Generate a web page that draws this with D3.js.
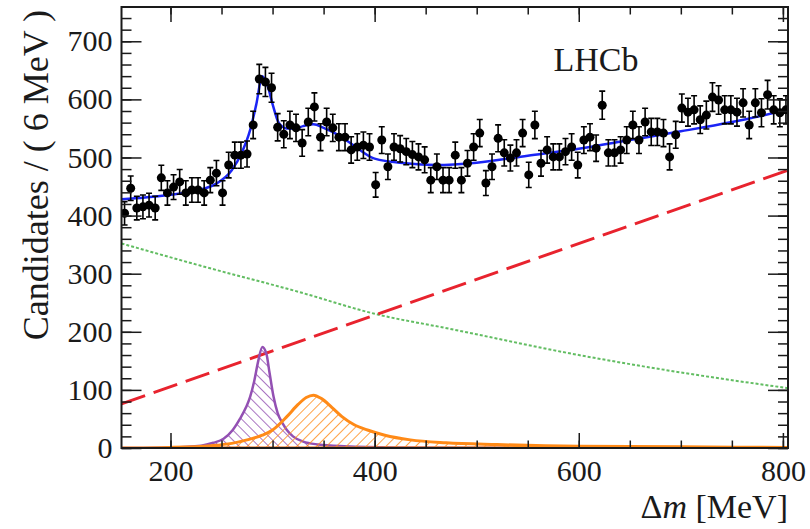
<!DOCTYPE html>
<html>
<head>
<meta charset="utf-8">
<script src="https://cdn.jsdelivr.net/npm/d3@7"></script>
<style>
body { margin: 0; background: #fff; }
text { font-family: "Liberation Serif", "Times New Roman", serif; fill: #1a1a1a; }
</style>
</head>
<body>
<script>
// Delta m data, 6 MeV bins starting at 152 MeV
var binWidth = 6;
var counts = [404,447,413,415,418,413,465,439,449,458,
    439,444,444,439,461,473,439,487,504,504,
    506,556,635,630,620,552,540,556,551,525,
    561,587,535,561,551,535,535,513,518,521,
    518,453,530,484,518,515,510,505,501,496,
    461,484,461,461,504,461,490,518,542,456,
    484,533,508,499,508,542,470,556,490,513,
    501,501,510,518,487,530,535,516,590,508,
    508,513,530,556,530,561,544,544,542,501,
    539,585,578,582,565,573,604,599,582,582,
    578,594,556,594,577,608,582,577,582];

// fit curves
var totalX = [152,175,200,225,245,260,270,278,284,290,295,300,306,314,322,330,340,350,365,380,400,430,460,500,550,600,650,700,750,805];
var totalY = [428,431,436,443,455,478,509,547,591,640,624,592,560,550,550,554,557,551,538,520,498,490,487,491,503,515,530,545,561,582];

var redX = [152, 805];
var redY = [76, 478];

var greenX = [152,229,327,400,474,600,700,805];
var greenY = [352,314,268,231,205,160,130,103];

var purpleX = [152,200,230,242,252,261,268,274,278,282,286,290,294,297,301,305,310,314,320,330,345,370,420,500,805];
var purpleY = [0,1,4,9,16,31,50,70,88,115,150,174,162,130,88,60,42,31,20,11,6,3,1,0.5,0];

var orangeX = [152,200,240,260,275,290,300,314,325,333,340,348,358,368,380,393,410,435,470,520,600,700,805];
var orangeY = [0,1,4,8,14,22,31,54,75,87,91,85,70,54,40,31,22,14,9,6,3,2,1];

var xMajor = [200, 400, 600, 800];

var w = 810;
var h = 529;
// frame edges in pixels
var fL = 121.5, fR = 788, fT = 7, fB = 448;

var svg = d3.select("body")
    .append("svg")
    .attr("width", w)
    .attr("height", h);

svg.append("rect").attr("width", w).attr("height", h).attr("fill", "#fff");

var x = d3.scaleLinear().domain([152, 805]).range([fL, fR]);
var y = d3.scaleLinear().domain([0, 759]).range([fB, fT]);

// hatch patterns
var defs = svg.append("defs");
function hatch(id, color, angle) {
    var p = defs.append("pattern")
        .attr("id", id)
        .attr("patternUnits", "userSpaceOnUse")
        .attr("width", 7)
        .attr("height", 7)
        .attr("patternTransform", "rotate(" + angle + ")");
    p.append("line")
        .attr("x1", 0).attr("y1", 0).attr("x2", 0).attr("y2", 7)
        .attr("stroke", color)
        .attr("stroke-width", 1.6);
}
hatch("hatchPurple", "#9350b3", -45);
hatch("hatchOrange", "#ff8a17", 45);

defs.append("clipPath").attr("id", "plotClip")
    .append("rect")
    .attr("x", fL).attr("y", fT)
    .attr("width", fR - fL).attr("height", fB - fT);

var plot = svg.append("g").attr("clip-path", "url(#plotClip)");

function pairs(xs, ys) {
    return xs.map(function(d, i) { return [d, ys[i]]; });
}

var line = d3.line()
    .x(function(d) { return x(d[0]); })
    .y(function(d) { return y(d[1]); })
    .curve(d3.curveMonotoneX);

var area = d3.area()
    .x(function(d) { return x(d[0]); })
    .y0(y(0))
    .y1(function(d) { return y(d[1]); })
    .curve(d3.curveMonotoneX);

// green dotted background
plot.append("path")
    .attr("d", line(pairs(greenX, greenY)))
    .attr("fill", "none")
    .attr("stroke", "#62bd62")
    .attr("stroke-width", 2)
    .attr("stroke-dasharray", "3,2");

// red dashed background
plot.append("path")
    .attr("d", line(pairs(redX, redY)))
    .attr("fill", "none")
    .attr("stroke", "#e8232e")
    .attr("stroke-width", 3)
    .attr("stroke-dasharray", "25,9");

// peaks
plot.append("path")
    .attr("d", area(pairs(purpleX, purpleY)))
    .attr("fill", "url(#hatchPurple)")
    .attr("stroke", "#9350b3")
    .attr("stroke-width", 2.5);

plot.append("path")
    .attr("d", area(pairs(orangeX, orangeY)))
    .attr("fill", "url(#hatchOrange)")
    .attr("stroke", "#ff8a17")
    .attr("stroke-width", 3);

// total fit
plot.append("path")
    .attr("d", line(pairs(totalX, totalY)))
    .attr("fill", "none")
    .attr("stroke", "#1a24f5")
    .attr("stroke-width", 2.5);

// data points
var pts = counts.map(function(d, i) { return [152 + binWidth * (i + 0.5), d]; });

var dp = plot.append("g").selectAll("g")
    .data(pts)
    .enter()
    .append("g");

dp.append("line")
    .attr("x1", function(d) { return x(d[0]); })
    .attr("x2", function(d) { return x(d[0]); })
    .attr("y1", function(d) { return y(d[1] - Math.sqrt(d[1])); })
    .attr("y2", function(d) { return y(d[1] + Math.sqrt(d[1])); })
    .attr("stroke", "#000")
    .attr("stroke-width", 1.6);

[-1, 1].forEach(function(s) {
    dp.append("line")
        .attr("x1", function(d) { return x(d[0]) - 3; })
        .attr("x2", function(d) { return x(d[0]) + 3; })
        .attr("y1", function(d) { return y(d[1] + s * Math.sqrt(d[1])); })
        .attr("y2", function(d) { return y(d[1] + s * Math.sqrt(d[1])); })
        .attr("stroke", "#000")
        .attr("stroke-width", 1.6);
});

dp.append("circle")
    .attr("cx", function(d) { return x(d[0]); })
    .attr("cy", function(d) { return y(d[1]); })
    .attr("r", 4.5)
    .attr("fill", "#000");

// axes, ROOT style: ticks inside on all four sides
var xMinorTicks = d3.range(200, 801, 50);
var yMinorTicks = d3.range(0, 751, 20);
var yMajorTicks = d3.range(0, 701, 100);

function noDomain(g) { g.select(".domain").remove(); g.selectAll("line").attr("stroke", "#1a1a1a").attr("stroke-width", 1.5); }

svg.append("g").attr("transform", "translate(0," + fB + ")")
    .call(d3.axisBottom(x).tickValues(xMinorTicks).tickSize(-7.5).tickFormat(""))
    .call(noDomain);
svg.append("g").attr("transform", "translate(0," + fT + ")")
    .call(d3.axisTop(x).tickValues(xMinorTicks).tickSize(-7.5).tickFormat(""))
    .call(noDomain);
svg.append("g").attr("transform", "translate(0," + fT + ")")
    .call(d3.axisTop(x).tickValues(xMajor).tickSize(-15).tickFormat(""))
    .call(noDomain);

var xAxis = svg.append("g").attr("transform", "translate(0," + fB + ")")
    .call(d3.axisBottom(x).tickValues(xMajor).tickSize(-15).tickPadding(12).tickFormat(d3.format("d")))
    .call(noDomain);
xAxis.selectAll("text").attr("font-size", 30).attr("font-family", "Liberation Serif").attr("fill", "#1a1a1a");

svg.append("g").attr("transform", "translate(" + fL + ",0)")
    .call(d3.axisLeft(y).tickValues(yMinorTicks).tickSize(-10).tickFormat(""))
    .call(noDomain);
svg.append("g").attr("transform", "translate(" + fR + ",0)")
    .call(d3.axisRight(y).tickValues(yMinorTicks).tickSize(-10).tickFormat(""))
    .call(noDomain);
svg.append("g").attr("transform", "translate(" + fR + ",0)")
    .call(d3.axisRight(y).tickValues(yMajorTicks).tickSize(-20).tickFormat(""))
    .call(noDomain);

var yAxis = svg.append("g").attr("transform", "translate(" + fL + ",0)")
    .call(d3.axisLeft(y).tickValues(yMajorTicks).tickSize(-20).tickPadding(9).tickFormat(d3.format("d")))
    .call(noDomain);
yAxis.selectAll("text").attr("font-size", 30).attr("font-family", "Liberation Serif").attr("fill", "#1a1a1a");

// frame
svg.append("rect")
    .attr("x", fL).attr("y", fT)
    .attr("width", fR - fL).attr("height", fB - fT)
    .attr("fill", "none")
    .attr("stroke", "#1a1a1a")
    .attr("stroke-width", 2);

// titles
svg.append("text")
    .attr("transform", "translate(48," + (fT + 3) + ") rotate(-90)")
    .attr("text-anchor", "end")
    .attr("font-size", 36)
    .text("Candidates / ( 6 MeV )");

var xt = svg.append("text")
    .attr("x", fR)
    .attr("y", 518)
    .attr("text-anchor", "end")
    .attr("font-size", 34);
xt.append("tspan").text("\u0394");
xt.append("tspan").attr("font-style", "italic").text("m");
xt.append("tspan").text(" [MeV]");

svg.append("text")
    .attr("x", 596)
    .attr("y", 71)
    .attr("text-anchor", "middle")
    .attr("font-size", 34)
    .text("LHCb");
</script>
</body>
</html>
